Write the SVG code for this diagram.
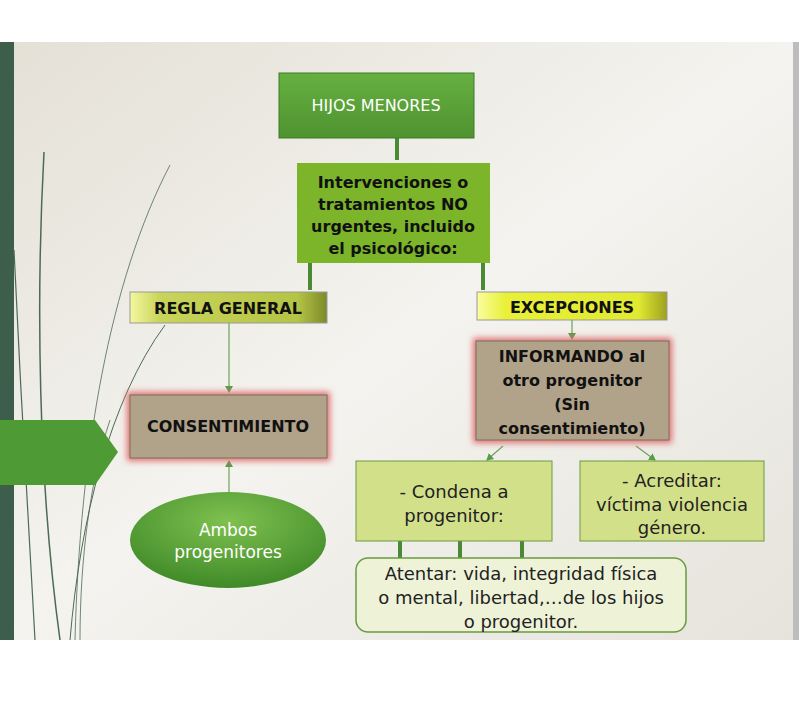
<svg xmlns="http://www.w3.org/2000/svg" width="799" height="728" viewBox="0 0 799 728">
<defs>
<linearGradient id="bg" x1="0" y1="0" x2="1" y2="1"><stop offset="0" stop-color="#e4e0d6"/><stop offset="0.5" stop-color="#f4f3ef"/><stop offset="1" stop-color="#e6e3dc"/></linearGradient>
<linearGradient id="g1" x1="0" y1="0" x2="0" y2="1"><stop offset="0" stop-color="#66b040"/><stop offset="1" stop-color="#4f9330"/></linearGradient>
<linearGradient id="yel" x1="0" y1="0" x2="1" y2="0"><stop offset="0" stop-color="#f4f7a0"/><stop offset="0.15" stop-color="#c9d45a"/><stop offset="0.85" stop-color="#b5c445"/><stop offset="1" stop-color="#7d8a2a"/></linearGradient>
<linearGradient id="yel2" x1="0" y1="0" x2="1" y2="0"><stop offset="0" stop-color="#fbfda0"/><stop offset="0.15" stop-color="#e8f038"/><stop offset="0.85" stop-color="#e0ea30"/><stop offset="1" stop-color="#9ea020"/></linearGradient>
<radialGradient id="ov" cx="0.5" cy="0.3" r="0.7"><stop offset="0" stop-color="#7fc150"/><stop offset="1" stop-color="#3f8a28"/></radialGradient>
<filter id="glow" x="-10%" y="-10%" width="120%" height="120%"><feGaussianBlur stdDeviation="3"/></filter>
<marker id="ar" markerWidth="8" markerHeight="8" refX="6" refY="4" orient="auto" markerUnits="userSpaceOnUse"><path d="M0,0 L7,4 L0,8 z" fill="#5a9a48"/></marker>
</defs>
<style>
.t{font-family:"DejaVu Sans","Liberation Sans",sans-serif;text-anchor:middle}
.b{font-weight:bold;fill:#111}
.thick{stroke:#4a8a34;stroke-width:4;fill:none}
.thin{stroke:#6aa45a;stroke-width:1.2;fill:none}
.deco{stroke:#4b6b55;fill:none}
</style>
<rect width="799" height="728" fill="#fff"/>
<rect x="0" y="42" width="799" height="598" fill="url(#bg)"/>
<rect x="0" y="42" width="14" height="598" fill="#3e5e4c"/>
<rect x="793" y="42" width="6" height="598" fill="#bdbdbd"/>
<g id="decor">
<path class="deco" stroke-width="1.5" d="M44,152 C36,300 38,480 60,640"/>
<path class="deco" stroke-width="1.2" d="M14,250 C20,380 28,520 35,640"/>
<path class="deco" stroke-width="0.8" stroke="#b9b8a8" d="M170,165 C110,280 80,450 75,640"/>
<path class="deco" stroke-width="1" d="M165,325 C110,400 80,520 70,640"/>
<path class="deco" stroke-width="0.8" d="M110,420 C90,480 80,560 80,640"/>
</g>
<g id="connectors">
<line class="thick" x1="397" y1="138" x2="397" y2="160"/>
<line class="thick" x1="310" y1="263" x2="310" y2="290"/>
<line class="thick" x1="483" y1="263" x2="483" y2="290"/>
<line class="thin" x1="229" y1="323" x2="229" y2="392" marker-end="url(#ar)"/>
<line class="thin" x1="229" y1="492" x2="229" y2="461" marker-end="url(#ar)"/>
<line class="thin" x1="572" y1="320" x2="572" y2="339" marker-end="url(#ar)"/>
<line class="thin" x1="503" y1="446" x2="487" y2="460" marker-end="url(#ar)"/>
<line class="thin" x1="636" y1="446" x2="655" y2="460" marker-end="url(#ar)"/>
<line class="thick" x1="400" y1="541" x2="400" y2="558"/>
<line class="thick" x1="460" y1="541" x2="460" y2="558"/>
<line class="thick" x1="522" y1="541" x2="522" y2="558"/>
</g>
<g id="arrowshape"><path d="M0,420 L95,420 L118,452 L95,485 L0,485 z" fill="#4e9a34"/></g>
<g id="hijos"><rect x="279" y="73" width="195" height="65" fill="url(#g1)" stroke="#3f7a28"/><text class="t" x="376" y="111" font-size="16" fill="#fff">HIJOS MENORES</text></g>
<g id="interv"><rect x="297" y="163" width="193" height="100" fill="#7cb52a"/>
<text class="t b" font-size="16"><tspan x="393" y="188">Intervenciones o</tspan><tspan x="393" y="210">tratamientos NO</tspan><tspan x="393" y="232">urgentes, incluido</tspan><tspan x="393" y="254">el psicológico:</tspan></text></g>
<g id="regla"><rect x="130" y="292" width="197" height="31" fill="url(#yel)" stroke="#999"/><text class="t b" x="228" y="314" font-size="16">REGLA GENERAL</text></g>
<g id="excep"><rect x="477" y="292" width="190" height="28" fill="url(#yel2)" stroke="#999"/><text class="t b" x="572" y="313" font-size="16">EXCEPCIONES</text></g>
<g id="consent"><rect x="127" y="392" width="203" height="69" fill="#e07070" filter="url(#glow)"/><rect x="130" y="395" width="197" height="63" fill="#b1a38a" stroke="#7a6e5a"/><text class="t b" x="228" y="432" font-size="16">CONSENTIMIENTO</text></g>
<g id="ambos"><ellipse cx="228" cy="540" rx="98" ry="48" fill="url(#ov)"/><text class="t" font-size="17" fill="#fff"><tspan x="228" y="536">Ambos</tspan><tspan x="228" y="558">progenitores</tspan></text></g>
<g id="informando"><rect x="473" y="338" width="199" height="105" fill="#e07070" filter="url(#glow)"/><rect x="476" y="341" width="193" height="99" fill="#b1a38a" stroke="#7a6e5a"/>
<text class="t b" font-size="16"><tspan x="572" y="362">INFORMANDO al</tspan><tspan x="572" y="386">otro progenitor</tspan><tspan x="572" y="410">(Sin</tspan><tspan x="572" y="434">consentimiento)</tspan></text></g>
<g id="condena"><rect x="356" y="461" width="196" height="80" fill="#d3e08a" stroke="#6a9a40"/><text class="t" font-size="18" fill="#222"><tspan x="454" y="498">- Condena a</tspan><tspan x="454" y="522">progenitor:</tspan></text></g>
<g id="acreditar"><rect x="580" y="461" width="184" height="80" fill="#d3e08a" stroke="#6a9a40"/><text class="t" font-size="18" fill="#222"><tspan x="672" y="487">- Acreditar:</tspan><tspan x="672" y="511">víctima violencia</tspan><tspan x="672" y="534">género.</tspan></text></g>
<g id="atentar"><rect x="356" y="558" width="330" height="74" rx="12" fill="#eef3d8" stroke="#6a9a40" stroke-width="1.5"/><text class="t" font-size="18" fill="#222"><tspan x="521" y="580">Atentar: vida, integridad física</tspan><tspan x="521" y="604">o mental, libertad,…de los hijos</tspan><tspan x="521" y="628">o progenitor.</tspan></text></g>
</svg>
